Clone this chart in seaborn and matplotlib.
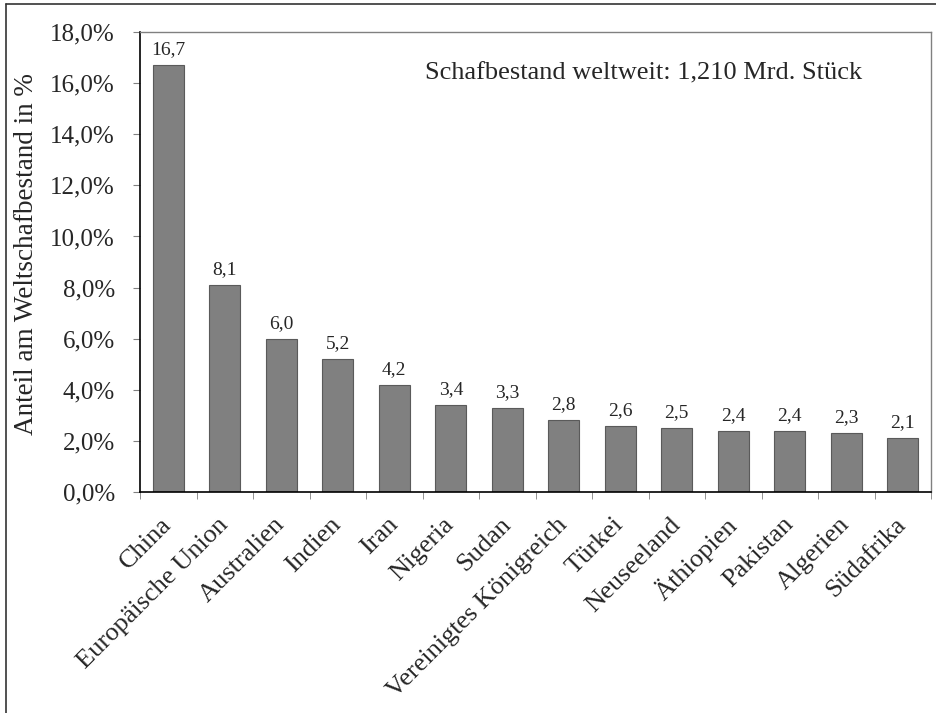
import matplotlib
matplotlib.use("Agg")
import matplotlib.pyplot as plt
import matplotlib.transforms as mtransforms
import seaborn as sns
import numpy as np
import pandas as pd
from matplotlib.lines import Line2D

# === Data ===
countries = ["China", "Europäische Union", "Australien", "Indien", "Iran", "Nigeria",
             "Sudan", "Vereinigtes Königreich", "Türkei", "Neuseeland", "Äthiopien",
             "Pakistan", "Algerien", "Südafrika"]
shares = [16.7, 8.1, 6.0, 5.2, 4.2, 3.4, 3.3, 2.8, 2.6, 2.5, 2.4, 2.4, 2.3, 2.1]
y_ticks = [0, 2, 4, 6, 8, 10, 12, 14, 16, 18]

df = pd.DataFrame({"Land": countries, "Anteil": shares})

# === Plot ===
sns.set_style("white")
plt.rcParams["font.family"] = ["Liberation Serif", "DejaVu Serif"]

fig = plt.figure(figsize=(9.36, 7.13), dpi=100)
ax = fig.add_axes([0.1496, 0.310, 0.8451, 0.645])

sns.barplot(data=df, x="Land", y="Anteil", color="#808080", width=0.55,
            edgecolor="#5a5a5a", linewidth=0.8, saturation=1, ax=ax)

# value labels
for i, v in enumerate(shares):
    ax.annotate(f"{v:.1f}".replace(".", ","), (i, v), xytext=(0, 5),
                textcoords="offset points", ha="center", va="bottom", fontsize=14)

ax.set_ylim(0, 18)
ax.set_xlim(-0.5, len(countries) - 0.5)
ax.set_yticks(y_ticks)
ax.set_yticklabels([f"{t:.1f}%".replace(".", ",") for t in y_ticks], fontsize=18)
ax.set_xticks(range(len(countries)))
ax.set_xticklabels(countries, rotation=45, ha="right", va="center",
                   rotation_mode="anchor", fontsize=19)
shift = mtransforms.ScaledTranslation(15 / 100, 0, fig.dpi_scale_trans)
for lbl in ax.get_xticklabels():
    lbl.set_transform(lbl.get_transform() + shift)
ax.set_xticks(np.arange(-0.5, len(countries), 1), minor=True)
ax.tick_params(axis="x", which="major", length=0, pad=21)
ax.tick_params(axis="x", which="minor", length=5, color="#808080", direction="out", bottom=True)
ax.tick_params(axis="y", length=5, color="#808080", direction="out", left=True, pad=13)

ax.set_xlabel("")
ax.set_ylabel("Anteil am Weltschafbestand in %", fontsize=19.5)
ax.yaxis.set_label_coords(-0.128, 0.517)

for side in ["left", "bottom"]:
    ax.spines[side].set_color("black")
    ax.spines[side].set_linewidth(1.2)
for side in ["top", "right"]:
    ax.spines[side].set_color("#808080")
    ax.spines[side].set_linewidth(1.0)

ax.text(0.36, 0.911, "Schafbestand weltweit: 1,210 Mrd. Stück", transform=ax.transAxes,
        ha="left", va="center", fontsize=19)

# outer chart border (cropped on right/bottom)
fig.add_artist(Line2D([6 / 936, 6 / 936], [0, 1 - 4 / 713], color="#333333", lw=1.2))
fig.add_artist(Line2D([6 / 936, 1], [1 - 4 / 713, 1 - 4 / 713], color="#333333", lw=1.2))

fig.savefig("out.png", dpi=100)
plt.close(fig)
